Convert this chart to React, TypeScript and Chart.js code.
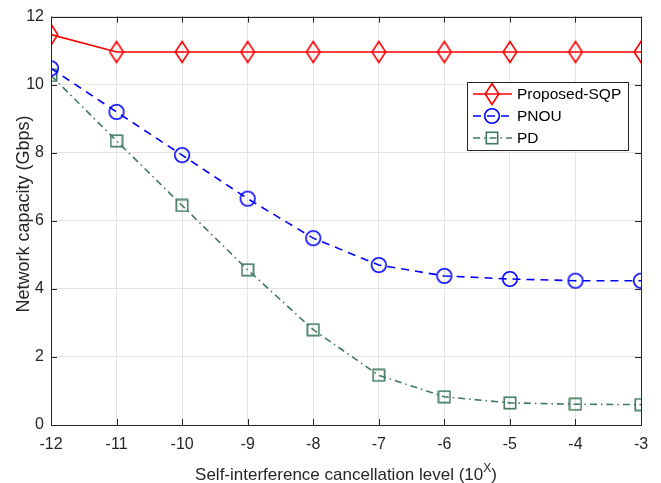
import React, { useEffect, useRef } from 'react';
import { Chart, registerables } from 'chart.js';

Chart.register(...registerables);

const xLevels = [-12, -11, -10, -9, -8, -7, -6, -5, -4, -3];
const proposedSQP = [11.47, 10.96, 10.96, 10.96, 10.96, 10.96, 10.96, 10.96, 10.96, 10.96];
const pnou = [10.48, 9.2, 7.93, 6.65, 5.49, 4.7, 4.38, 4.29, 4.24, 4.24];
const pd = [10.27, 8.35, 6.45, 4.56, 2.8, 1.46, 0.83, 0.65, 0.61, 0.6];
const xTicks = [-12, -11, -10, -9, -8, -7, -6, -5, -4, -3];
const yTicks = [0, 2, 4, 6, 8, 10, 12];
const seriesNames = ['Proposed-SQP', 'PNOU', 'PD'];

const RED = '#ff0000';
const BLUE = '#0000ff';
const GREEN = '#3e7a5c';
const AXIS = '#262626';
const FONT = '"Liberation Sans", Arial, Helvetica, sans-serif';

function makeMarker(kind: string, color: string): HTMLCanvasElement {
  const c = document.createElement('canvas');
  const ctx = c.getContext('2d')!;
  if (kind === 'diamond') {
    c.width = 16; c.height = 24;
    ctx.strokeStyle = color; ctx.lineWidth = 1.6;
    ctx.beginPath();
    ctx.moveTo(8, 1.5); ctx.lineTo(14.8, 12); ctx.lineTo(8, 22.5); ctx.lineTo(1.2, 12); ctx.closePath();
    ctx.stroke();
  } else if (kind === 'circle') {
    c.width = 18; c.height = 18;
    ctx.strokeStyle = color; ctx.lineWidth = 1.6;
    ctx.beginPath(); ctx.arc(9, 9, 7.3, 0, Math.PI * 2); ctx.stroke();
  } else {
    c.width = 14; c.height = 14;
    ctx.strokeStyle = color; ctx.lineWidth = 1.6;
    ctx.strokeRect(1.3, 1.3, 11.4, 11.4);
  }
  return c;
}

export default function App() {
  const ref = useRef<HTMLCanvasElement | null>(null);
  useEffect(() => {
    document.body.style.margin = '0';
    const canvas = ref.current!;
    const mDiamond = makeMarker('diamond', RED);
    const mCircle = makeMarker('circle', BLUE);
    const mSquare = makeMarker('square', GREEN);
    const markers = [mDiamond, mCircle, mSquare];
    const colors = [RED, BLUE, GREEN];
    const dashes: number[][] = [[], [8, 6], [7, 4, 1.5, 4]];

    const frame = {
      id: 'frame',
      afterDraw(chart: any) {
        const ctx = chart.ctx;
        const a = chart.chartArea;
        const xs = chart.scales.x;
        const ys = chart.scales.y;
        ctx.save();
        ctx.strokeStyle = AXIS;
        ctx.lineWidth = 1;
        ctx.strokeRect(Math.round(a.left) + 0.5, Math.round(a.top) + 0.5, Math.round(a.right - a.left), Math.round(a.bottom - a.top));
        ctx.beginPath();
        const tl = 6;
        xTicks.forEach((v) => {
          const px = Math.round(xs.getPixelForValue(v)) + 0.5;
          ctx.moveTo(px, a.bottom); ctx.lineTo(px, a.bottom - tl);
          ctx.moveTo(px, a.top); ctx.lineTo(px, a.top + tl);
        });
        yTicks.forEach((v) => {
          const py = Math.round(ys.getPixelForValue(v)) + 0.5;
          ctx.moveTo(a.left, py); ctx.lineTo(a.left + tl, py);
          ctx.moveTo(a.right, py); ctx.lineTo(a.right - tl, py);
        });
        ctx.stroke();

        // y title
        ctx.fillStyle = AXIS;
        ctx.font = `18px ${FONT}`;
        ctx.textAlign = 'center';
        ctx.textBaseline = 'middle';
        ctx.save();
        ctx.translate(24, 214);
        ctx.rotate(-Math.PI / 2);
        ctx.fillText('Network capacity (Gbps)', 0, 0);
        ctx.restore();

        // x title with superscript
        const main = 'Self-interference cancellation level (10';
        const sup = 'X';
        const close = ')';
        ctx.font = `17px ${FONT}`;
        const w1 = ctx.measureText(main).width;
        const w3 = ctx.measureText(close).width;
        ctx.font = `12px ${FONT}`;
        const w2 = ctx.measureText(sup).width;
        const total = w1 + w2 + w3;
        const cx = (a.left + a.right) / 2;
        const x0 = cx - total / 2;
        const baseY = 480;
        ctx.textAlign = 'left';
        ctx.textBaseline = 'alphabetic';
        ctx.font = `17px ${FONT}`;
        ctx.fillText(main, x0, baseY);
        ctx.font = `12px ${FONT}`;
        ctx.fillText(sup, x0 + w1, baseY - 8);
        ctx.font = `17px ${FONT}`;
        ctx.fillText(close, x0 + w1 + w2, baseY);

        // legend
        const lx = 467.5, ly = 82.5, lw = 161, lh = 68;
        ctx.fillStyle = '#ffffff';
        ctx.fillRect(lx, ly, lw, lh);
        ctx.strokeStyle = AXIS;
        ctx.lineWidth = 1;
        ctx.strokeRect(lx, ly, lw, lh);
        const rows = [94, 116, 138];
        ctx.font = `15.5px ${FONT}`;
        ctx.textBaseline = 'middle';
        seriesNames.forEach((name, i) => {
          const y = rows[i];
          ctx.strokeStyle = colors[i];
          ctx.lineWidth = 1.6;
          ctx.setLineDash(dashes[i]);
          ctx.beginPath();
          ctx.moveTo(473, y); ctx.lineTo(512, y);
          ctx.stroke();
          ctx.setLineDash([]);
          const m = markers[i];
          ctx.drawImage(m, 492 - m.width / 2, y - m.height / 2);
          ctx.fillStyle = '#000000';
          ctx.fillText(name, 517, y + 1);
        });
        ctx.restore();
      },
    };

    const mk = (vals: number[]) => xLevels.map((x, i) => ({ x, y: vals[i] }));

    const chart = new Chart(canvas, {
      type: 'line',
      data: {
        datasets: [
          { label: seriesNames[0], data: mk(proposedSQP), borderColor: RED, borderWidth: 1.6, pointStyle: mDiamond as any, pointRadius: 8, backgroundColor: 'transparent', fill: false, tension: 0 },
          { label: seriesNames[1], data: mk(pnou), borderColor: BLUE, borderWidth: 1.6, borderDash: dashes[1], pointStyle: mCircle as any, pointRadius: 8, backgroundColor: 'transparent', fill: false, tension: 0 },
          { label: seriesNames[2], data: mk(pd), borderColor: GREEN, borderWidth: 1.6, borderDash: dashes[2], pointStyle: mSquare as any, pointRadius: 8, backgroundColor: 'transparent', fill: false, tension: 0 },
        ],
      },
      options: {
        animation: false,
        responsive: false,
        maintainAspectRatio: false,
        layout: { padding: { left: 0, right: 20, top: 14, bottom: 0 } },
        plugins: { legend: { display: false }, tooltip: { enabled: false } },
        scales: {
          x: {
            type: 'linear',
            min: -12,
            max: -3,
            afterBuildTicks: (s: any) => { s.ticks = xTicks.map((v) => ({ value: v })); },
            afterFit: (s: any) => { s.height = 58; },
            grid: { color: '#e3e3e3', drawTicks: false, lineWidth: 1 },
            border: { display: false },
            ticks: { color: AXIS, font: { family: FONT, size: 16 }, padding: 10, maxRotation: 0, autoSkip: false, callback: (v: any) => String(v) },
          },
          y: {
            type: 'linear',
            min: 0,
            max: 12,
            afterBuildTicks: (s: any) => { s.ticks = yTicks.map((v) => ({ value: v })); },
            afterFit: (s: any) => { s.width = 51; },
            grid: { color: '#e3e3e3', drawTicks: false, lineWidth: 1 },
            border: { display: false },
            ticks: { color: AXIS, font: { family: FONT, size: 16 }, padding: 7, callback: (v: any) => String(v) },
          },
        },
      },
      plugins: [frame],
    } as any);
    return () => chart.destroy();
  }, []);
  return <canvas ref={ref} width={661} height={483} style={{ display: 'block', width: 661, height: 483 }} />;
}
